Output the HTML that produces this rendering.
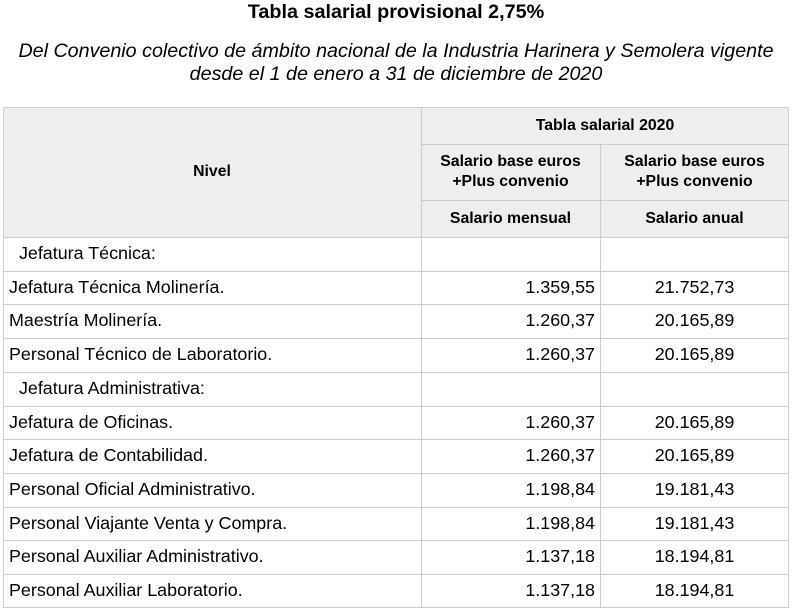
<!DOCTYPE html>
<html><head><meta charset="utf-8"><style>
body{margin:0;width:792px;height:610px;background:#fff;font-family:"Liberation Sans",Arial,sans-serif;color:#000;position:relative;overflow:hidden}
.t{position:absolute;left:0;width:792px;text-align:center;white-space:nowrap}
.c{position:absolute;box-sizing:border-box;display:flex;align-items:center;font-size:17.9px;white-space:nowrap}
.h{background:#eee;font-weight:bold;font-size:15.8px;justify-content:center;text-align:center;line-height:20px}
.l{position:absolute;background:#ccc}
</style></head><body>
<div class="t" style="top:1px;font-size:19.8px;font-weight:bold">Tabla salarial provisional 2,75%</div>
<div class="t" style="top:40px;font-size:19.7px;font-style:italic;line-height:23px">Del Convenio colectivo de ámbito nacional de la Industria Harinera y Semolera vigente<br>desde el 1 de enero a 31 de diciembre de 2020</div>

<div class="c h" style="left:3px;top:107px;width:418px;height:130px">Nivel</div>
<div class="c h" style="left:421px;top:107px;width:368px;height:37px">Tabla salarial 2020</div>
<div class="c h" style="left:421px;top:144px;width:179px;height:56px">Salario base euros<br>+Plus convenio</div>
<div class="c h" style="left:600px;top:144px;width:189px;height:56px">Salario base euros<br>+Plus convenio</div>
<div class="c h" style="left:421px;top:200px;width:179px;height:37px">Salario mensual</div>
<div class="c h" style="left:600px;top:200px;width:189px;height:37px">Salario anual</div>

<div class="l" style="left:3px;top:107px;width:786px;height:1px"></div>
<div class="l" style="left:421px;top:144px;width:368px;height:1px"></div>
<div class="l" style="left:421px;top:200px;width:368px;height:1px"></div>
<div class="l" style="left:3px;top:107px;width:1px;height:501px"></div>
<div class="l" style="left:421px;top:107px;width:1px;height:501px"></div>
<div class="l" style="left:600px;top:144px;width:1px;height:464px"></div>
<div class="l" style="left:788px;top:107px;width:1px;height:501px"></div>

<div id="rows"></div>
<script>
var d=[["&nbsp;&nbsp;Jefatura Técnica:","",""],["Jefatura Técnica Molinería.","1.359,55","21.752,73"],["Maestría Molinería.","1.260,37","20.165,89"],["Personal Técnico de Laboratorio.","1.260,37","20.165,89"],["&nbsp;&nbsp;Jefatura Administrativa:","",""],["Jefatura de Oficinas.","1.260,37","20.165,89"],["Jefatura de Contabilidad.","1.260,37","20.165,89"],["Personal Oficial Administrativo.","1.198,84","19.181,43"],["Personal Viajante Venta y Compra.","1.198,84","19.181,43"],["Personal Auxiliar Administrativo.","1.137,18","18.194,81"],["Personal Auxiliar Laboratorio.","1.137,18","18.194,81"]];
var h="",rh=33.7;
for(var i=0;i<d.length;i++){var y=237+i*rh;
h+='<div class="l" style="left:3px;top:'+Math.round(y)+'px;width:786px;height:1px"></div>';
h+='<div class="c" style="left:9px;top:'+Math.round(y)+'px;width:400px;height:'+rh+'px">'+d[i][0]+'</div>';
h+='<div class="c" style="left:421px;top:'+Math.round(y)+'px;width:174px;height:'+rh+'px;justify-content:flex-end">'+d[i][1]+'</div>';
h+='<div class="c" style="left:600px;top:'+Math.round(y)+'px;width:189px;height:'+rh+'px;justify-content:center">'+d[i][2]+'</div>';}
h+='<div class="l" style="left:3px;top:607px;width:786px;height:1px"></div>';
document.getElementById("rows").innerHTML=h;
</script>
</body></html>
